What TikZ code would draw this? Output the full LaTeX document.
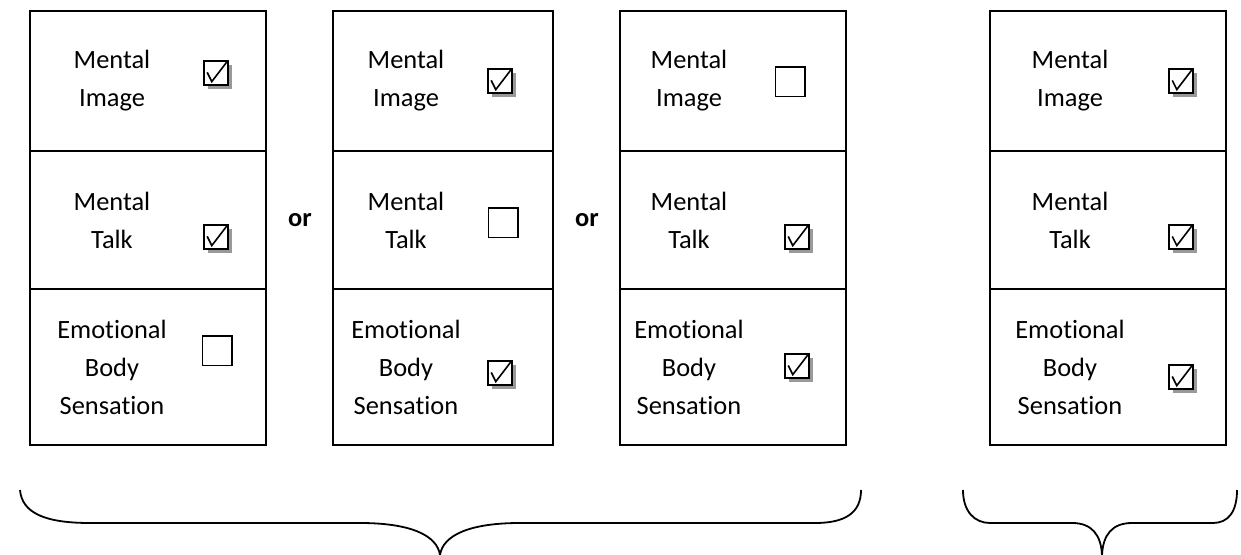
\documentclass[tikz,border=0pt]{standalone}
\usepackage{fontspec}
\setmainfont{Carlito}[Ligatures=NoCommon]
\usetikzlibrary{shadows}

\tikzset{
    cell/.style={draw, line width=1pt, inner sep=0pt},
    lbl/.style={align=center, inner sep=0pt, font=\fontsize{13.2}{19}\selectfont},
    orlbl/.style={inner sep=0pt, font=\fontsize{13.2}{19}\selectfont\bfseries},
    chkon/.style={draw, line width=1.4pt, minimum size=12pt, inner sep=0pt, fill=white,
        drop shadow={shadow xshift=1.8pt, shadow yshift=-1.8pt, fill=black!40, opacity=1},
        path picture={\draw[line width=0.8pt] (path picture bounding box.center) ++(-4.4pt,0.3pt) -- ++(2.3pt,-4.6pt) -- ++(7.8pt,10.2pt);}},
    chkoff/.style={draw, line width=0.9pt, minimum size=14.6pt, inner sep=0pt},
    brace/.style={line width=0.9pt}
}

\begin{document}
\begin{tikzpicture}[x=0.5pt, y=-0.5pt]

    \useasboundingbox (0,0) rectangle (1241,555);

    % first column
    \node[cell, minimum width=118pt, minimum height=70pt] (a1) at (148,81) {};
    \node[cell, minimum width=118pt, minimum height=69pt] (a2) at (148,220) {};
    \node[cell, minimum width=118pt, minimum height=78pt] (a3) at (148,367) {};
    \node[lbl] (ta1) at (112,81) {Mental\\Image};
    \node[lbl] (ta2) at (112,220) {Mental\\Talk};
    \node[lbl] (ta3) at (112,367) {Emotional\\Body\\Sensation};
    \node[chkon] (ca1) at (216,73) {};
    \node[chkon] (ca2) at (216,237) {};
    \node[chkoff] (ca3) at (217,351) {};

    \node[orlbl] (or1) at (300,220) {or};

    % second column
    \node[cell, minimum width=110pt, minimum height=70pt] (b1) at (443,81) {};
    \node[cell, minimum width=110pt, minimum height=69pt] (b2) at (443,220) {};
    \node[cell, minimum width=110pt, minimum height=78pt] (b3) at (443,367) {};
    \node[lbl] (tb1) at (406,81) {Mental\\Image};
    \node[lbl] (tb2) at (406,220) {Mental\\Talk};
    \node[lbl] (tb3) at (406,367) {Emotional\\Body\\Sensation};
    \node[chkon] (cb1) at (500,81) {};
    \node[chkoff] (cb2) at (503,223) {};
    \node[chkon] (cb3) at (500,373) {};

    \node[orlbl] (or2) at (587,220) {or};

    % third column
    \node[cell, minimum width=113pt, minimum height=70pt] (c1) at (733,81) {};
    \node[cell, minimum width=113pt, minimum height=69pt] (c2) at (733,220) {};
    \node[cell, minimum width=113pt, minimum height=78pt] (c3) at (733,367) {};
    \node[lbl] (tc1) at (689,81) {Mental\\Image};
    \node[lbl] (tc2) at (689,220) {Mental\\Talk};
    \node[lbl] (tc3) at (689,367) {Emotional\\Body\\Sensation};
    \node[chkoff] (cc1) at (790,82) {};
    \node[chkon] (cc2) at (797,237) {};
    \node[chkon] (cc3) at (797,366) {};

    % fourth column
    \node[cell, minimum width=118pt, minimum height=70pt] (d1) at (1108,81) {};
    \node[cell, minimum width=118pt, minimum height=69pt] (d2) at (1108,220) {};
    \node[cell, minimum width=118pt, minimum height=78pt] (d3) at (1108,367) {};
    \node[lbl] (td1) at (1070,81) {Mental\\Image};
    \node[lbl] (td2) at (1070,220) {Mental\\Talk};
    \node[lbl] (td3) at (1070,367) {Emotional\\Body\\Sensation};
    \node[chkon] (cd1) at (1181,81) {};
    \node[chkon] (cd2) at (1181,237) {};
    \node[chkon] (cd3) at (1181,377) {};

    % braces
    \draw[brace] (20,490) .. controls (22,513) and (45,523) .. (90,523) -- (360,523)
        .. controls (410,523) and (437,535) .. (440,555)
        .. controls (443,535) and (470,523) .. (520,523) -- (815,523)
        .. controls (845,523) and (861,513) .. (861,490);
    \draw[brace] (963,490) .. controls (963,512) and (975,523) .. (990,523) -- (1072,523)
        .. controls (1092,523) and (1101,535) .. (1102,555)
        .. controls (1103,535) and (1112,523) .. (1132,523) -- (1213,523)
        .. controls (1228,523) and (1237,512) .. (1237,490);

\end{tikzpicture}
\end{document}
